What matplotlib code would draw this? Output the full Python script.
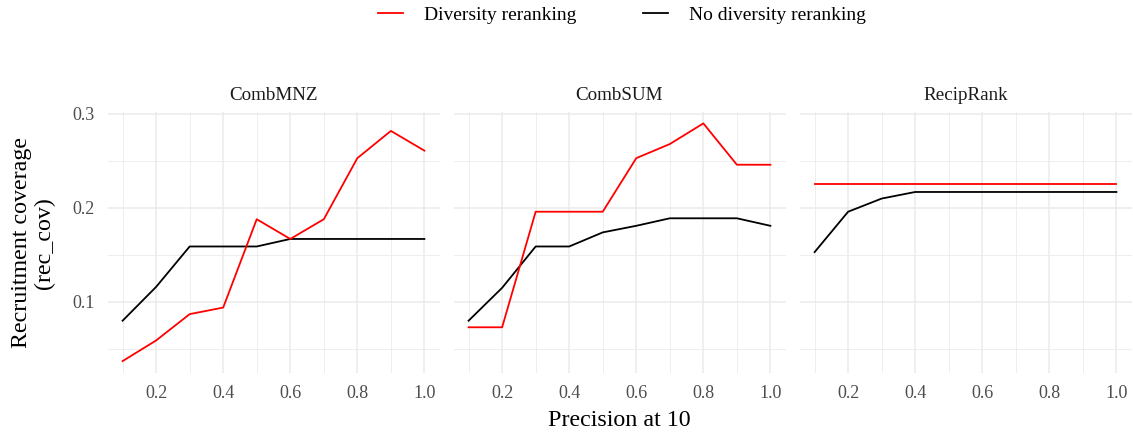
import matplotlib
matplotlib.use("Agg")
import matplotlib.pyplot as plt
from matplotlib.lines import Line2D

plt.rcParams['font.family'] = ['Liberation Serif', 'DejaVu Serif']

precision = [0.1, 0.2, 0.3, 0.4, 0.5, 0.6, 0.7, 0.8, 0.9, 1.0]
methods = ["CombMNZ", "CombSUM", "RecipRank"]

combmnz_div = [0.037, 0.059, 0.087, 0.094, 0.188, 0.167, 0.188, 0.253, 0.282, 0.261]
combmnz_nodiv = [0.080, 0.116, 0.159, 0.159, 0.159, 0.167, 0.167, 0.167, 0.167, 0.167]
combsum_div = [0.073, 0.073, 0.196, 0.196, 0.196, 0.253, 0.268, 0.290, 0.246, 0.246]
combsum_nodiv = [0.080, 0.115, 0.159, 0.159, 0.174, 0.181, 0.189, 0.189, 0.189, 0.181]
reciprank_div = [0.225, 0.225, 0.225, 0.225, 0.225, 0.225, 0.225, 0.225, 0.225, 0.225]
reciprank_nodiv = [0.153, 0.196, 0.210, 0.217, 0.217, 0.217, 0.217, 0.217, 0.217, 0.217]

div_series = [combmnz_div, combsum_div, reciprank_div]
nodiv_series = [combmnz_nodiv, combsum_nodiv, reciprank_nodiv]

W, H = 1133, 433
fig = plt.figure(figsize=(W / 100, H / 100), dpi=100)

lefts = [107.5, 453.5, 799.5]
pw = 332
bottom = 60
ph = 261.5

allvals = [v for s in div_series + nodiv_series for v in s]
ymin, ymax = min(allvals), max(allvals)
yr = ymax - ymin
ylim = (ymin - 0.05 * yr, ymax + 0.05 * yr)
xlim = (0.1 - 0.045, 1.0 + 0.045)

grid_col = "#EBEBEB"
text_col = "#4D4D4D"

for i, (name, d, n) in enumerate(zip(methods, div_series, nodiv_series)):
    ax = fig.add_axes([lefts[i] / W, bottom / H, pw / W, ph / H])
    for s in ax.spines.values():
        s.set_visible(False)
    ax.set_xlim(*xlim)
    ax.set_ylim(*ylim)
    ax.set_xticks([0.2, 0.4, 0.6, 0.8, 1.0])
    ax.set_xticks([0.1, 0.3, 0.5, 0.7, 0.9], minor=True)
    ax.set_yticks([0.1, 0.2, 0.3])
    ax.set_yticks([0.05, 0.15, 0.25], minor=True)
    ax.grid(True, which='major', color=grid_col, linewidth=1.1)
    ax.grid(True, which='minor', color=grid_col, linewidth=0.6)
    ax.set_axisbelow(True)
    ax.tick_params(which='both', length=0, labelsize=13, labelcolor=text_col)
    ax.tick_params(axis='x', pad=8.5)
    ax.tick_params(axis='y', pad=9.5)
    ax.set_xticklabels(["0.2", "0.4", "0.6", "0.8", "1.0"])
    if i == 0:
        ax.set_yticklabels(["0.1", "0.2", "0.3"])
    else:
        ax.set_yticklabels([])
    ax.plot(precision, n, color="black", linewidth=1.3)
    ax.plot(precision, d, color="red", linewidth=1.3)
    ax.text(0.5, 1.0 + 16 / ph, name, transform=ax.transAxes, ha='center', va='center',
            fontsize=13.7, color="#1A1A1A")

fig.text((lefts[0] + lefts[2] + pw) / 2 / W, 1 - 421 / H, "Precision at 10",
         ha='center', va='center', fontsize=17.3)
fig.text(33 / W, 1 - 243 / H, "Recruitment coverage\n(rec_cov)", rotation=90,
         ha='center', va='center', fontsize=17.3, linespacing=1.15)

handles = [Line2D([], [], color='red', linewidth=1.3), Line2D([], [], color='black', linewidth=1.3)]
fig.legend(handles, ["Diversity reranking", "No diversity reranking"], loc='center',
           bbox_to_anchor=(622 / W, 1 - 15 / H), ncol=2, frameon=False, fontsize=14,
           handlelength=1.3, columnspacing=3.4, handletextpad=1.1)

fig.savefig("out.png", dpi=100)
